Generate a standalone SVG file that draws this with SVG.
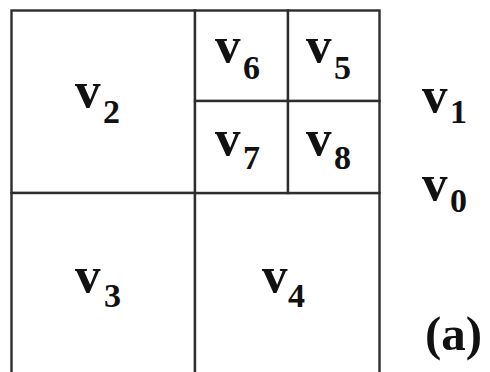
<svg xmlns="http://www.w3.org/2000/svg" width="490" height="372" viewBox="0 0 490 372">
<style>
.cell{fill:#fff;stroke:#2d2d2d;stroke-width:2.4}
.lbl{font-family:"Liberation Serif","Times New Roman",serif;font-weight:bold;fill:#111}
.v{font-size:51px}
.s{font-size:34px}
.cap{font-family:"Liberation Serif","Times New Roman",serif;font-weight:bold;font-size:49px;fill:#111}
</style>
<rect width="490" height="372" fill="#fff"/>
<g id="v2"><rect class="cell" x="11.5" y="10.5" width="183.5" height="182.5"/><text class="lbl"><tspan class="v" x="75" y="107">v</tspan><tspan class="s" x="103" y="123">2</tspan></text></g>
<g id="v3"><rect class="cell" x="11.5" y="193" width="183.5" height="190"/><text class="lbl"><tspan class="v" x="75" y="292">v</tspan><tspan class="s" x="104" y="307">3</tspan></text></g>
<g id="v4"><rect class="cell" x="195" y="193" width="184.5" height="190"/><text class="lbl"><tspan class="v" x="262" y="292">v</tspan><tspan class="s" x="288" y="307">4</tspan></text></g>
<g id="v6"><rect class="cell" x="195" y="10.5" width="93" height="90.5"/><text class="lbl"><tspan class="v" x="215" y="62">v</tspan><tspan class="s" x="243" y="79">6</tspan></text></g>
<g id="v5"><rect class="cell" x="288" y="10.5" width="91.5" height="90.5"/><text class="lbl"><tspan class="v" x="306" y="62">v</tspan><tspan class="s" x="334" y="79">5</tspan></text></g>
<g id="v7"><rect class="cell" x="195" y="101" width="93" height="92"/><text class="lbl"><tspan class="v" x="215" y="155">v</tspan><tspan class="s" x="243" y="169">7</tspan></text></g>
<g id="v8"><rect class="cell" x="288" y="101" width="91.5" height="92"/><text class="lbl"><tspan class="v" x="306" y="155">v</tspan><tspan class="s" x="334" y="169">8</tspan></text></g>
<g id="v1"><text class="lbl"><tspan class="v" x="422" y="112">v</tspan><tspan class="s" x="450" y="123">1</tspan></text></g>
<g id="v0"><text class="lbl"><tspan class="v" x="422" y="200">v</tspan><tspan class="s" x="450" y="212">0</tspan></text></g>
<g id="caption"><text class="cap" x="425" y="350">(a)</text></g>
<g id="connectors"></g>
</svg>
